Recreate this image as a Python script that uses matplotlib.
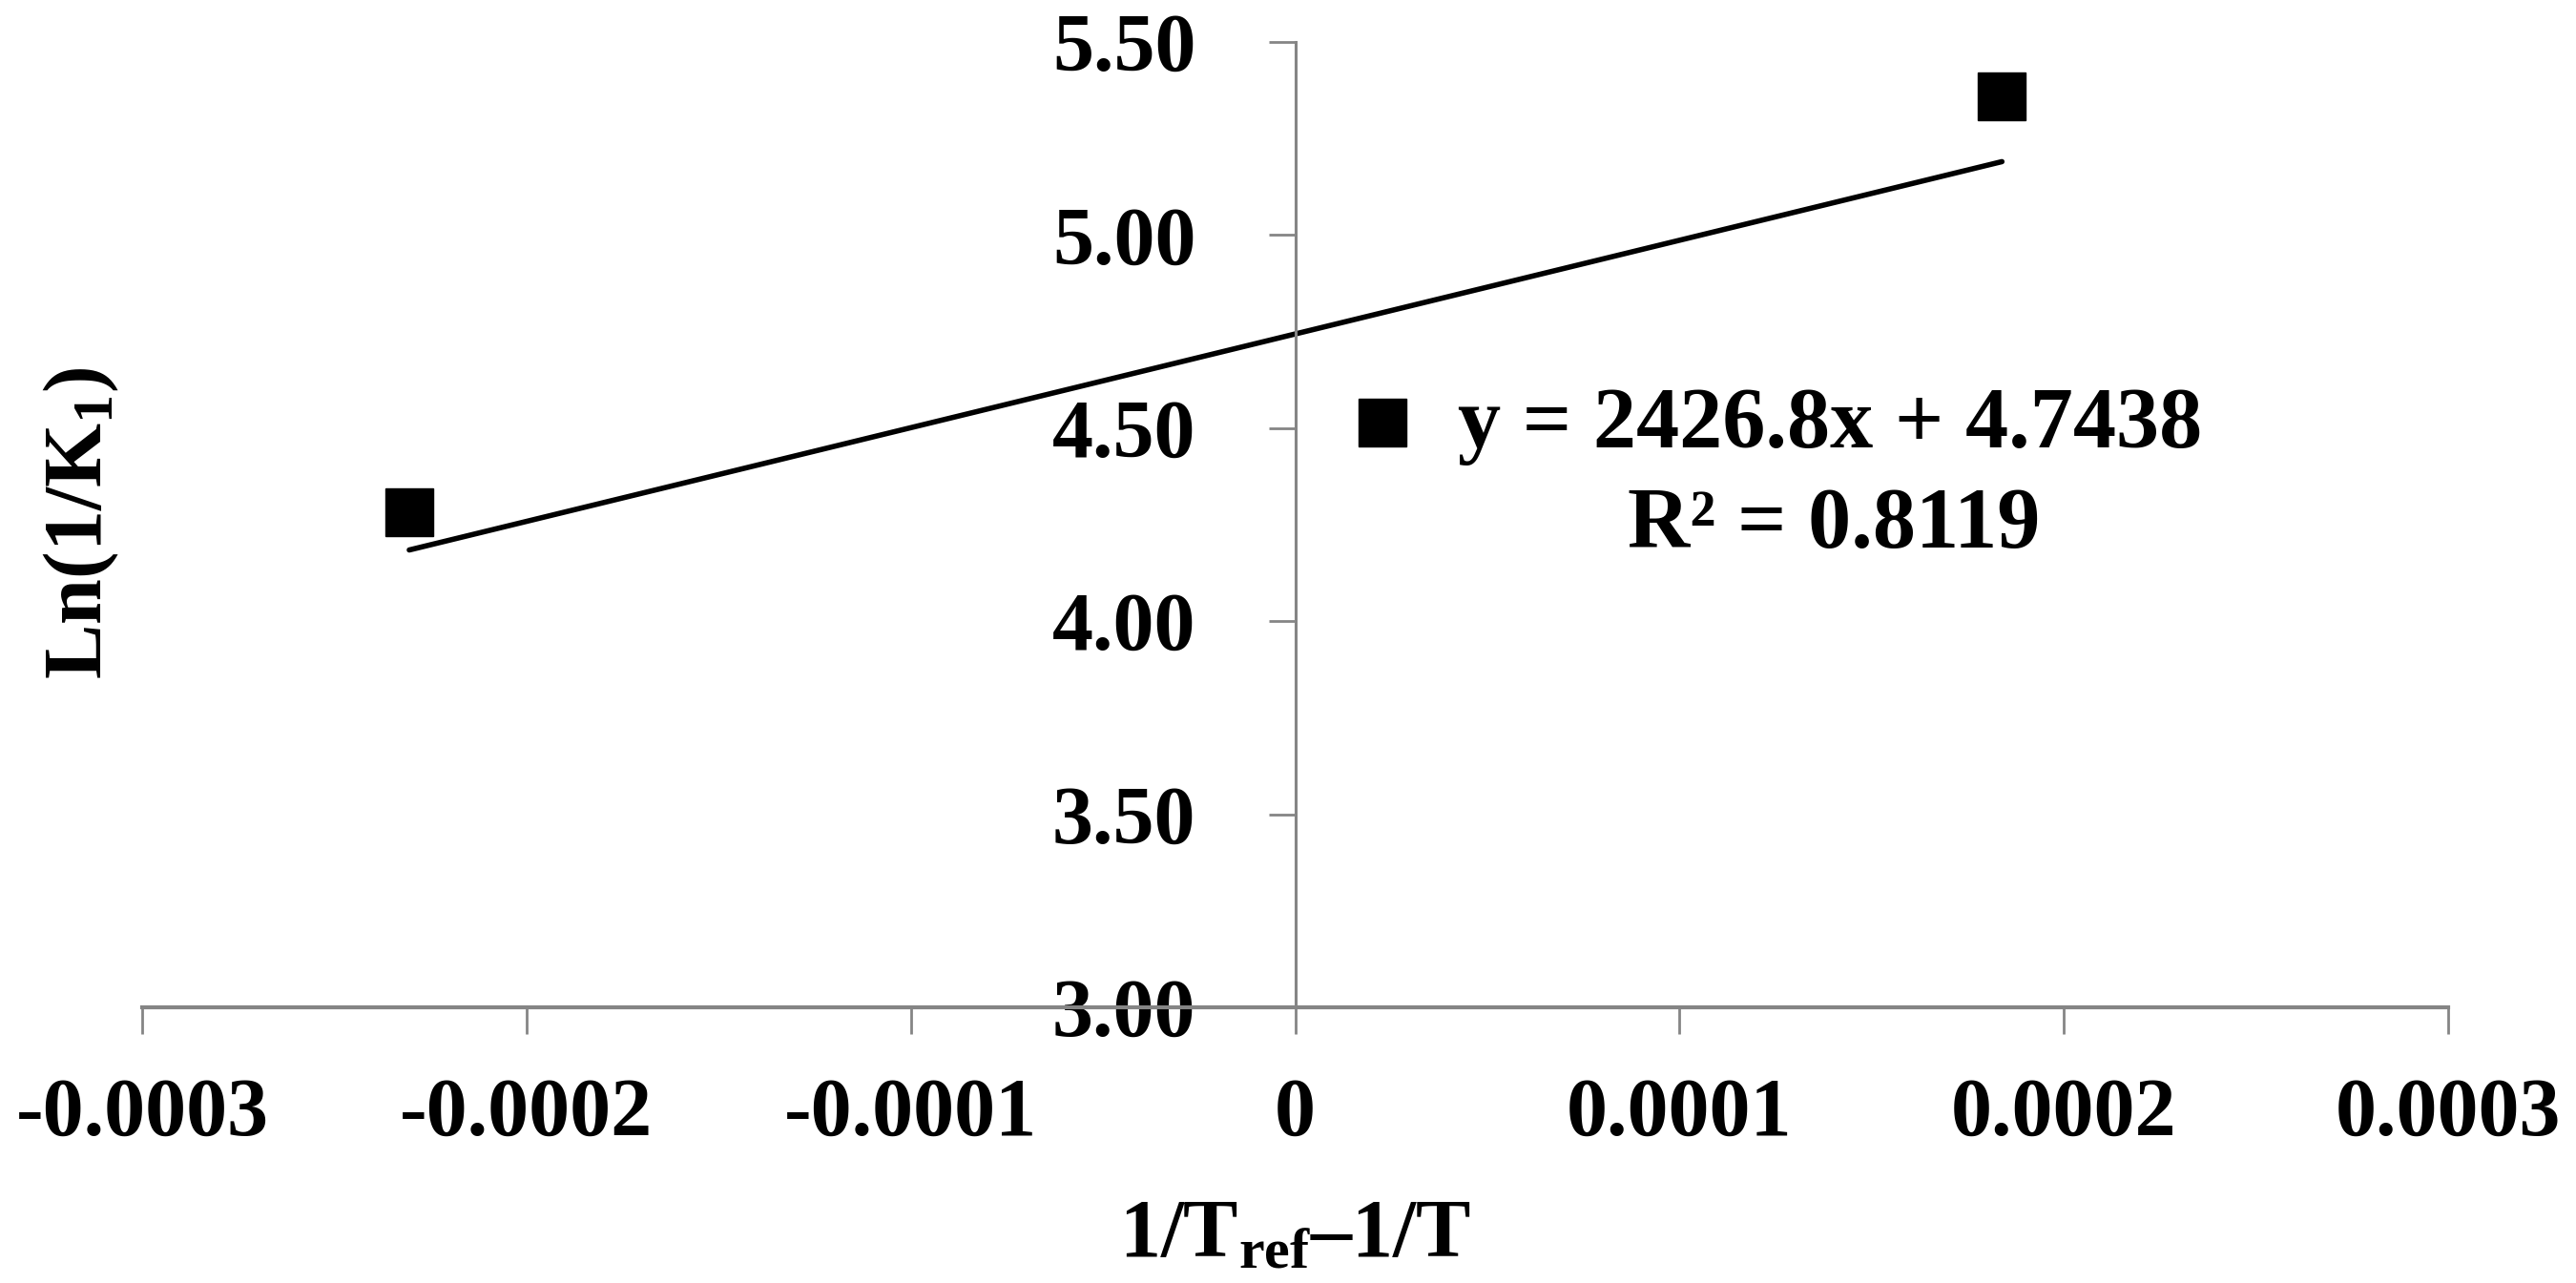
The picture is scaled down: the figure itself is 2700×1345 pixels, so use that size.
import matplotlib
matplotlib.use("Agg")
import matplotlib.pyplot as plt

# data
xData = [-0.0002305, 0.0000228, 0.0001839]
yData = [4.282, 4.514, 5.359]
slope = 2426.8
intercept = 4.7438
r2 = 0.8119

xTicks = [-0.0003, -0.0002, -0.0001, 0, 0.0001, 0.0002, 0.0003]
xTickLabels = ["-0.0003", "-0.0002", "-0.0001", "0", "0.0001", "0.0002", "0.0003"]
yTicks = [3.0, 3.5, 4.0, 4.5, 5.0, 5.5]
yTickLabels = ["3.00", "3.50", "4.00", "4.50", "5.00", "5.50"]

plt.rcParams["font.family"] = ["Liberation Serif", "DejaVu Serif"]
plt.rcParams["font.weight"] = "bold"
plt.rcParams["mathtext.fontset"] = "custom"
plt.rcParams["mathtext.rm"] = "Liberation Serif:bold"
plt.rcParams["mathtext.bf"] = "Liberation Serif:bold"
plt.rcParams["mathtext.it"] = "Liberation Serif:bold"

W, H = 2700, 1345
fig = plt.figure(figsize=(W / 100, H / 100), dpi=100)
ax = fig.add_axes([149 / W, 1 - 1056 / H, (2566 - 149) / W, (1056 - 44) / H])

ax.set_xlim(-0.0003, 0.0003)
ax.set_ylim(3.0, 5.5)

# trendline over the data range
xs = [min(xData), max(xData)]
ax.plot(xs, [slope * v + intercept for v in xs], color="black", lw=4, solid_capstyle="round")
ax.plot(xData, yData, "s", color="black", markersize=36, markeredgewidth=1)

axisGray = "#858585"
ax.spines["top"].set_visible(False)
ax.spines["right"].set_visible(False)
ax.spines["left"].set_position(("data", 0))
ax.spines["left"].set_color(axisGray)
ax.spines["left"].set_linewidth(2.2)
ax.spines["bottom"].set_color(axisGray)
ax.spines["bottom"].set_linewidth(3)

ax.set_xticks(xTicks)
ax.set_xticklabels(xTickLabels)
ax.set_yticks(yTicks)
ax.set_yticklabels(yTickLabels)
ax.tick_params(axis="x", direction="out", length=20, width=2, color=axisGray,
               labelsize=62, pad=33)
ax.tick_params(axis="y", direction="out", length=20, width=2, color=axisGray,
               labelsize=62, pad=55)
for lab in ax.get_xticklabels() + ax.get_yticklabels():
    lab.set_fontweight("bold")

fig.text(85 / W, 1 - 548 / H, r"$\mathbf{Ln(1/K_1)}$", rotation=90,
         ha="center", va="center", fontsize=62)
fig.text(1357 / W, 1 - 1317 / H, r"$\mathbf{1/T_{ref}}$" + "\u2013" + "1/T",
         ha="center", va="baseline", fontsize=62, fontweight="bold")

fig.text(1918 / W, 1 - 469 / H, "y = %.1fx + %.4f" % (slope, intercept),
         ha="center", va="baseline", fontsize=65, fontweight="bold")
fig.text(1922 / W, 1 - 574 / H, "R\u00b2 = %.4f" % r2,
         ha="center", va="baseline", fontsize=65, fontweight="bold")

fig.savefig("out.png", dpi=100)
